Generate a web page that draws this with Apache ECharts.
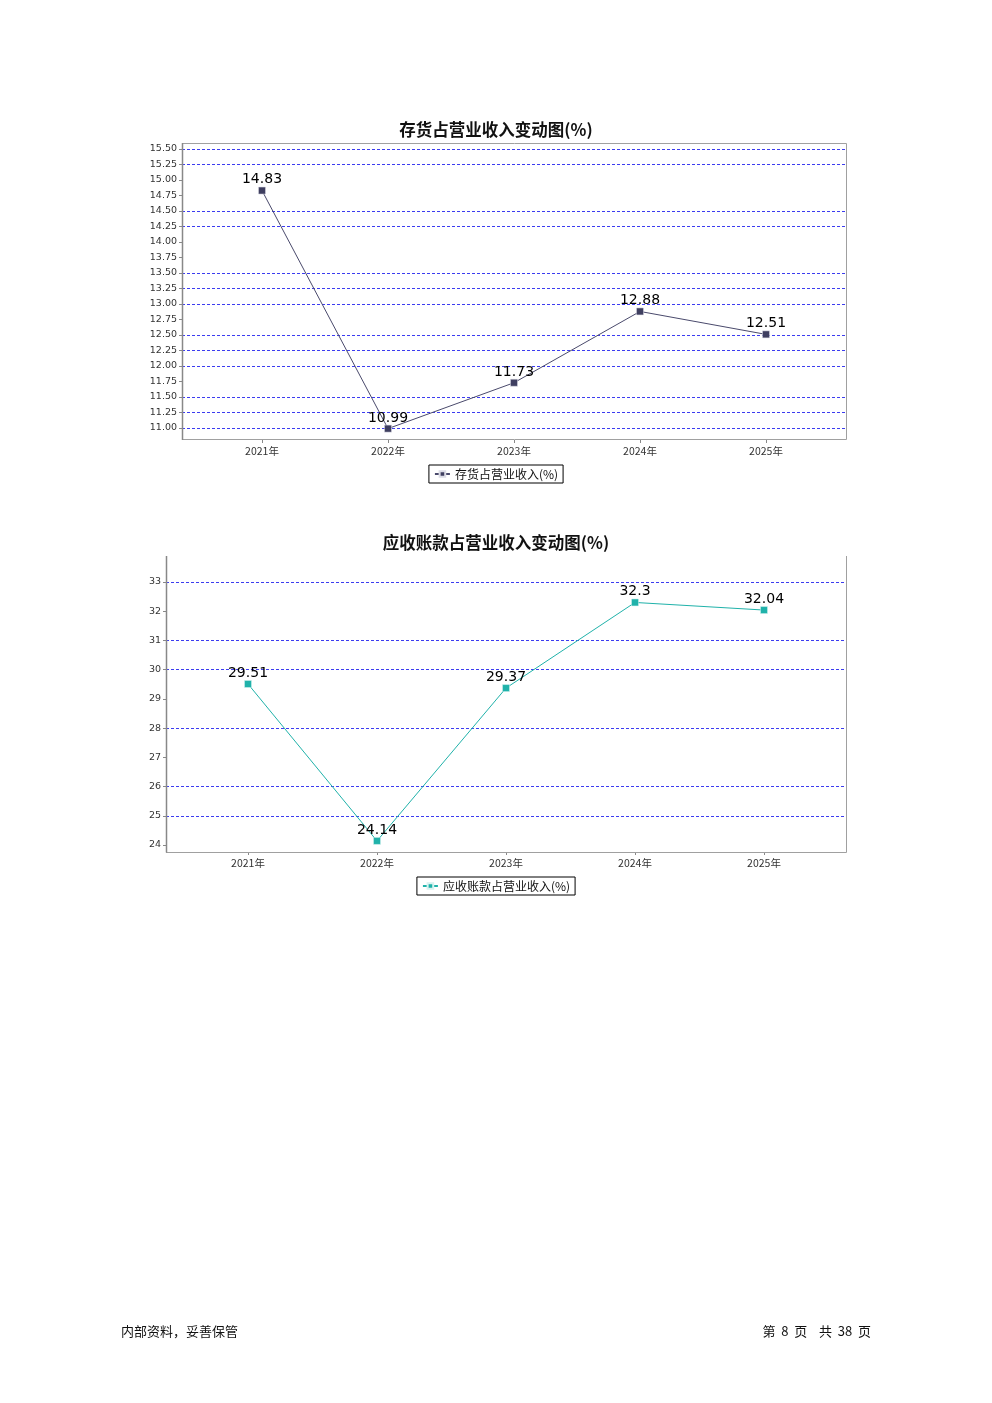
<!DOCTYPE html>
<html>
<head>
<meta charset="utf-8">
<style>
html,body{margin:0;padding:0;background:#fff;}
#c{width:992px;height:1403px;}
</style>
<script src="https://cdn.jsdelivr.net/npm/echarts@6/dist/echarts.min.js"></script>
</head>
<body>
<div id="c"></div>
<script>
// ---- data ----
const years = ['2021年', '2022年', '2023年', '2024年', '2025年'];
const inventoryTitle = '存货占营业收入变动图(%)';
const inventoryName = '存货占营业收入(%)';
const inventoryValues = [14.83, 10.99, 11.73, 12.88, 12.51];
const receivableTitle = '应收账款占营业收入变动图(%)';
const receivableName = '应收账款占营业收入(%)';
const receivableValues = [29.51, 24.14, 29.37, 32.3, 32.04];
// which grid lines are visible in the reference (from axis min upward)
const inventoryGridVisible = [1,1,1,0,1,1,1,0,1,1,1,0,0,1,1,0,0,1,1];
const receivableGridVisible = [0,1,1,0,1,0,1,1,0,1];
const footerLeft = '内部资料，妥善保管';
const footerRight = '第  8  页    共  38  页';

const GRID_BLUE = '#3c3cf0';
const cjk = '"Noto Sans CJK SC", "DejaVu Sans", sans-serif';
const num = '"DejaVu Sans", sans-serif';

function gridColors(arr){ return arr.map(v => v ? GRID_BLUE : 'rgba(0,0,0,0)'); }

const chart = echarts.init(document.getElementById('c'), null, {renderer: 'canvas'});

const labelStyle = {show: true, position: 'top', distance: 0, color: '#000', fontSize: 14, fontFamily: num};
const legendBase = {left: 'center', borderColor: '#000', borderWidth: 1, borderRadius: 0,
  padding: [3, 5, 3, 5], itemWidth: 15, itemHeight: 7, itemGap: 4,
  textStyle: {fontSize: 12, color: '#111', fontFamily: cjk}};

chart.setOption({
  animation: false,
  backgroundColor: '#fff',
  title: [
    {text: inventoryTitle, left: 'center', top: 116, textStyle: {fontSize: 16.5, fontWeight: 'bold', color: '#111', fontFamily: cjk}},
    {text: receivableTitle, left: 'center', top: 529, textStyle: {fontSize: 16.5, fontWeight: 'bold', color: '#111', fontFamily: cjk}}
  ],
  legend: [
    Object.assign({data: [inventoryName], top: 465}, legendBase),
    Object.assign({data: [receivableName], top: 877}, legendBase)
  ],
  grid: [
    {left: 182, right: 146, top: 149, height: 279},
    {left: 199, right: 163, top: 149, height: 279},
    {left: 166, right: 146, top: 582, height: 263},
    {left: 183.5, right: 163.5, top: 582, height: 263}
  ],
  xAxis: [
    {gridIndex: 0, type: 'category', data: years, show: false},
    {gridIndex: 1, type: 'category', data: years, offset: 12,
     axisLine: {show: false}, axisTick: {show: true, alignWithLabel: true, length: 3, lineStyle: {color: '#888'}},
     axisLabel: {fontSize: 10.5, color: '#333', margin: 6, fontFamily: cjk}},
    {gridIndex: 2, type: 'category', data: years, show: false},
    {gridIndex: 3, type: 'category', data: years, offset: 7,
     axisLine: {show: false}, axisTick: {show: true, alignWithLabel: true, length: 3, lineStyle: {color: '#888'}},
     axisLabel: {fontSize: 10.5, color: '#333', margin: 6, fontFamily: cjk}}
  ],
  yAxis: [
    {gridIndex: 0, type: 'value', min: 11, max: 15.5, interval: 0.25,
     axisLine: {show: false}, axisTick: {show: true, length: 3, lineStyle: {color: '#888'}},
     axisLabel: {fontSize: 9.5, color: '#333', margin: 5, fontFamily: num, formatter: v => v.toFixed(2)},
     splitLine: {show: true, lineStyle: {color: gridColors(inventoryGridVisible), type: [3, 2], width: 1}}},
    {gridIndex: 1, type: 'value', min: 11, max: 15.5, show: false, splitLine: {show: false}},
    {gridIndex: 2, type: 'value', min: 24, max: 33, interval: 1,
     axisLine: {show: false}, axisTick: {show: true, length: 3, lineStyle: {color: '#888'}},
     axisLabel: {fontSize: 9.5, color: '#333', margin: 5, fontFamily: num},
     splitLine: {show: true, lineStyle: {color: gridColors(receivableGridVisible), type: [3, 2], width: 1}}},
    {gridIndex: 3, type: 'value', min: 24, max: 33, show: false, splitLine: {show: false}}
  ],
  series: [
    {name: inventoryName, type: 'line', xAxisIndex: 1, yAxisIndex: 1, data: inventoryValues,
     symbol: 'rect', symbolSize: 7, showAllSymbol: true, clip: false,
     lineStyle: {color: '#4a4a6c', width: 1}, itemStyle: {color: '#3f3f60', borderColor: '#dcdce6', borderWidth: 0.5},
     label: labelStyle},
    {name: receivableName, type: 'line', xAxisIndex: 3, yAxisIndex: 3, data: receivableValues,
     symbol: 'rect', symbolSize: 7, showAllSymbol: true, clip: false,
     lineStyle: {color: '#20b2aa', width: 1}, itemStyle: {color: '#20b2aa', borderColor: '#d8f2f0', borderWidth: 0.5},
     label: labelStyle}
  ],
  graphic: [
    {type: 'rect', shape: {x: 182.5, y: 143.5, width: 664, height: 296}, style: {fill: null, stroke: '#a0a0a0', lineWidth: 1}, z: 10, silent: true},
    {type: 'line', shape: {x1: 182.5, y1: 143, x2: 182.5, y2: 440}, style: {stroke: '#888', lineWidth: 1.5}, z: 11, silent: true},
    {type: 'line', shape: {x1: 166.5, y1: 556, x2: 166.5, y2: 852.5}, style: {stroke: '#888', lineWidth: 1.5}, z: 11, silent: true},
    {type: 'line', shape: {x1: 166, y1: 852.5, x2: 846.5, y2: 852.5}, style: {stroke: '#a0a0a0', lineWidth: 1}, z: 10, silent: true},
    {type: 'line', shape: {x1: 846.5, y1: 556, x2: 846.5, y2: 852.5}, style: {stroke: '#a0a0a0', lineWidth: 1}, z: 10, silent: true},
    {type: 'text', left: 121, top: 1325, style: {text: footerLeft, fill: '#111', font: '13px ' + cjk}},
    {type: 'text', right: 121, top: 1325, style: {text: footerRight, fill: '#111', font: '13px ' + cjk}}
  ]
});
</script>
</body>
</html>
